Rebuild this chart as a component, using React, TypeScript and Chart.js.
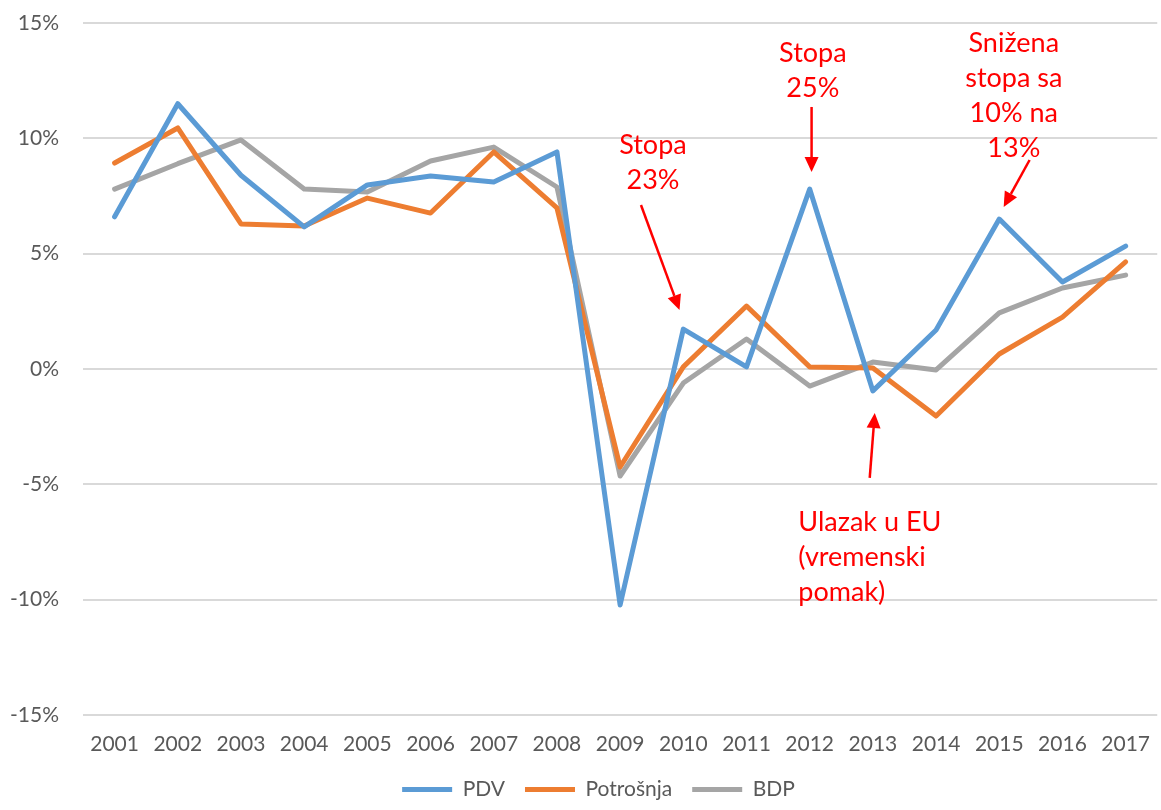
import React, { useEffect, useRef } from "react";
import { Chart, registerables } from "chart.js";

Chart.register(...registerables);

const years = ["2001", "2002", "2003", "2004", "2005", "2006", "2007", "2008", "2009", "2010", "2011", "2012", "2013", "2014", "2015", "2016", "2017"];
const pdv = [6.6, 11.5, 8.4, 6.16, 7.98, 8.37, 8.11, 9.41, -10.23, 1.73, 0.09, 7.8, -0.95, 1.69, 6.5, 3.77, 5.33];
const potrosnja = [8.93, 10.45, 6.29, 6.2, 7.41, 6.76, 9.41, 6.98, -4.25, 0.09, 2.73, 0.09, 0.04, -2.04, 0.65, 2.25, 4.64];
const bdp = [7.8, 8.9, 9.93, 7.8, 7.67, 9.02, 9.62, 7.89, -4.64, -0.61, 1.3, -0.74, 0.3, -0.04, 2.43, 3.51, 4.07];
const yTicks = [-15, -10, -5, 0, 5, 10, 15];
const seriesNames = ["PDV", "Potrošnja", "BDP"];
const seriesColors = ["#5B9BD5", "#ED7D31", "#A5A5A5"];

// annotations in data units: [category index, value]
const annotationTexts = [
  ["Stopa", "23%"],
  ["Stopa", "25%"],
  ["Snižena", "stopa sa", "10% na", "13%"],
  ["Ulazak u EU", "(vremenski", "pomak)"],
];
const annotationAnchors = [
  [8.52, 9.71],
  [11.05, 13.7],
  [14.23, 14.13],
  [10.82, -6.63],
];
const annotationAlign = ["center", "center", "center", "left"];
const arrowFrom = [
  [8.33, 7.11],
  [11.03, 11.36],
  [14.48, 9.06],
  [11.95, -4.72],
];
const arrowTo = [
  [8.94, 2.56],
  [11.03, 8.54],
  [14.07, 7.02],
  [12.03, -1.91],
];

const FONT = "Lato, 'Open Sans', sans-serif";
const RED = "#FF0000";

const legendShift = {
  id: "legendShift",
  afterLayout(chart: any) {
    if (chart.legend) chart.legend.left = 30;
  },
};

const annotationPlugin = {
  id: "redNotes",
  afterDatasetsDraw(chart: any) {
    const ctx = chart.ctx;
    const xs = chart.scales.x;
    const ys = chart.scales.y;
    ctx.save();
    ctx.fillStyle = RED;
    ctx.strokeStyle = RED;
    ctx.font = `27px ${FONT}`;
    ctx.textBaseline = "middle";
    annotationTexts.forEach((lines, i) => {
      const ax = xs.getPixelForValue(annotationAnchors[i][0]);
      const ay = ys.getPixelForValue(annotationAnchors[i][1]);
      ctx.textAlign = annotationAlign[i] as CanvasTextAlign;
      lines.forEach((t, j) => ctx.fillText(t, ax, ay + j * 35));
    });
    arrowFrom.forEach((f, i) => {
      const x1 = xs.getPixelForValue(f[0]);
      const y1 = ys.getPixelForValue(f[1]);
      const x2 = xs.getPixelForValue(arrowTo[i][0]);
      const y2 = ys.getPixelForValue(arrowTo[i][1]);
      const ang = Math.atan2(y2 - y1, x2 - x1);
      const headLen = 15;
      const headHalf = 7;
      const bx = x2 - headLen * Math.cos(ang);
      const by = y2 - headLen * Math.sin(ang);
      ctx.lineWidth = 2.5;
      ctx.beginPath();
      ctx.moveTo(x1, y1);
      ctx.lineTo(bx, by);
      ctx.stroke();
      ctx.beginPath();
      ctx.moveTo(x2, y2);
      ctx.lineTo(bx + headHalf * Math.sin(ang), by - headHalf * Math.cos(ang));
      ctx.lineTo(bx - headHalf * Math.sin(ang), by + headHalf * Math.cos(ang));
      ctx.closePath();
      ctx.fill();
    });
    ctx.restore();
  },
};

export default function App() {
  const ref = useRef<HTMLCanvasElement>(null);
  useEffect(() => {
    let chart: Chart | null = null;
    let cancelled = false;
    const build = () => {
      if (cancelled || !ref.current) return;
      const series = [pdv, potrosnja, bdp];
      chart = new Chart(ref.current, {
        type: "line",
        data: {
          labels: years,
          datasets: series.map((d, i) => ({
            label: seriesNames[i],
            data: d,
            borderColor: seriesColors[i],
            backgroundColor: seriesColors[i],
            borderWidth: 5,
            borderCapStyle: "round",
            borderJoinStyle: "round",
            pointRadius: 0,
            tension: 0,
            fill: false,
          })),
        },
        options: {
          responsive: false,
          animation: false,
          devicePixelRatio: 1,
          layout: { padding: { left: 0, right: 0, top: 23, bottom: 0 } },
          plugins: {
            legend: {
              position: "bottom",
              labels: {
                usePointStyle: true,
                pointStyle: "line",
                pointStyleWidth: 50,
                boxHeight: 5,
                padding: 20,
                color: "#595959",
                font: { family: FONT, size: 21 },
              },
            },
            tooltip: { enabled: false },
          },
          scales: {
            x: {
              offset: true,
              grid: { display: false, drawTicks: false },
              border: { display: false },
              ticks: { color: "#595959", font: { family: FONT, size: 21 }, padding: 17, maxRotation: 0, autoSkip: false },
              afterFit: (s: any) => { s.height = 44; },
            },
            y: {
              min: yTicks[0],
              max: yTicks[yTicks.length - 1],
              grid: { color: "#D9D9D9", lineWidth: 2, drawTicks: false },
              border: { display: false },
              ticks: {
                stepSize: 5,
                color: "#595959",
                font: { family: FONT, size: 21 },
                padding: 24,
                callback: (v: any) => `${v}%`,
              },
              afterFit: (s: any) => {
                s.width = 83;
                s.paddingTop = 13;
                s.paddingBottom = 13;
              },
            },
          },
        },
        plugins: [legendShift, annotationPlugin],
      });
    };
    const fonts: any = (document as any).fonts;
    if (fonts && fonts.load) {
      Promise.all([fonts.load(`21px Lato`), fonts.load(`27px Lato`)]).then(build, build);
    } else build();
    return () => {
      cancelled = true;
      if (chart) chart.destroy();
    };
  }, []);
  return (
    <div style={{ position: "fixed", left: 0, top: 0, width: 1161, height: 810, overflow: "hidden", background: "#fff" }}>
      <canvas ref={ref} width={1167} height={810} style={{ display: "block" }} />
    </div>
  );
}
